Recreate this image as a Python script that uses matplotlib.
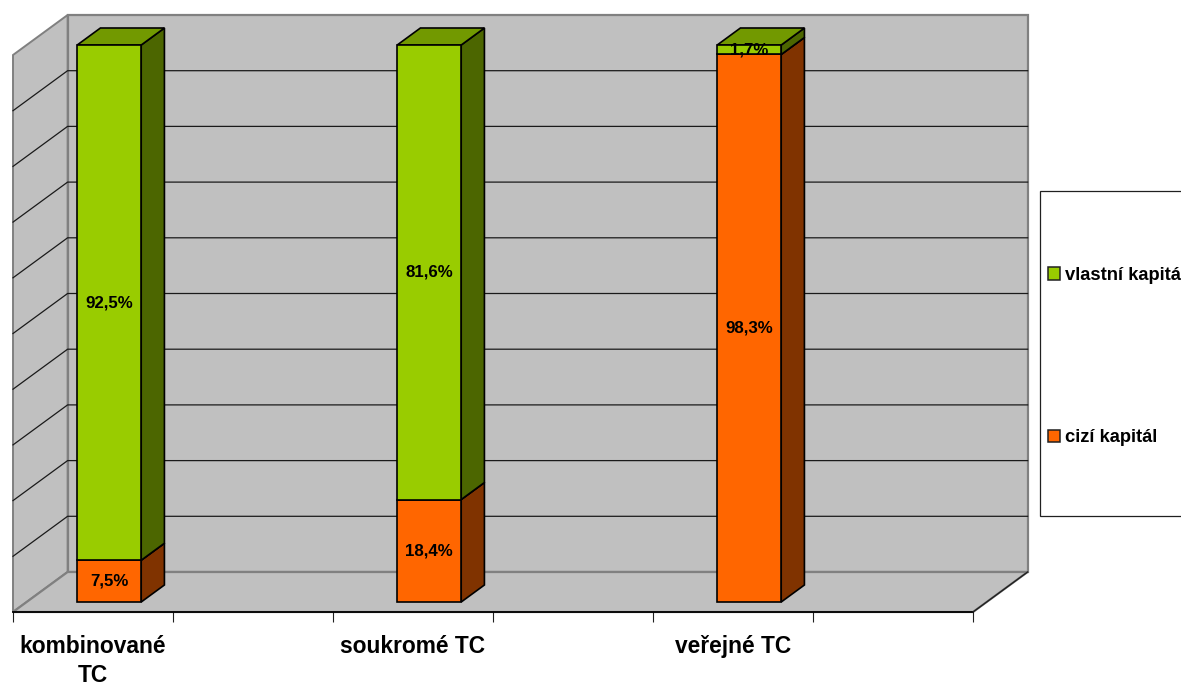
import numpy as np
import matplotlib
matplotlib.use("Agg")
import matplotlib.pyplot as plt
from matplotlib.patches import Polygon, Rectangle

plt.rcParams['font.family'] = ['Liberation Sans', 'DejaVu Sans']
plt.rcParams['font.weight'] = 'bold'

categories = ['kombinované\nTC', 'soukromé TC', 'veřejné TC']
series_names = ['vlastní kapitál', 'cizí kapitál']
cizi = [7.5, 18.4, 98.3]
vlastni = [92.5, 81.6, 1.7]
labels_cizi = ['7,5%', '18,4%', '98,3%']
labels_vlastni = ['92,5%', '81,6%', '1,7%']
cat_slots = [0, 2, 4]
grid_values = [0, 10, 20, 30, 40, 50, 60, 70, 80, 90, 100]

W, H = 1181, 682
GREEN, GREEN_TOP, GREEN_SIDE = '#99CC00', '#729900', '#4C6600'
ORANGE, ORANGE_TOP, ORANGE_SIDE = '#FF6600', '#BF4C00', '#803300'
GREY = '#C0C0C0'
EDGE = '#808080'

fig = plt.figure(figsize=(W / 100, H / 100), dpi=100, facecolor='white')
# axes span the front plane of the 3D box
L, R, B, T = 13, 973, 612, 55
ax = fig.add_axes([L / W, 1 - B / H, (R - L) / W, (B - T) / H])
ax.set_xlim(0, 6)
ax.set_ylim(0, 100)
ax.patch.set_visible(False)
for s in ax.spines.values():
    s.set_visible(False)

PX = 6 / (R - L)          # data x per pixel
PY = 100 / (B - T)        # data y per pixel
DX, DY = 54.6 * PX, 40 * PY  # full box depth in data units


def shift(x, y, f):
    return x + DX * f, y + DY * f


# walls and floor
x0, x1 = 0, 6
wall = Polygon([shift(x0, 0, 1), shift(x1, 0, 1), shift(x1, 100, 1), shift(x0, 100, 1)],
               closed=True, fc=GREY, ec=EDGE, lw=1.6, zorder=1, clip_on=False)
side = Polygon([(x0, 0), shift(x0, 0, 1), shift(x0, 100, 1), (x0, 100)],
               closed=True, fc=GREY, ec=EDGE, lw=1.4, zorder=1, clip_on=False)
floor = Polygon([(x0, 0), (x1, 0), shift(x1, 0, 1), shift(x0, 0, 1)],
                closed=True, fc=GREY, ec=EDGE, lw=1.6, zorder=1, clip_on=False)
for p in (wall, side, floor):
    ax.add_patch(p)

for g in grid_values[1:-1]:
    xa, ya = shift(x0, g, 0)
    xb, yb = shift(x0, g, 1)
    xc, yc = shift(x1, g, 1)
    ax.plot([xa, xb, xc], [ya, yb, yc], color='#1a1a1a', lw=0.9, zorder=2,
            clip_on=False, solid_joinstyle='miter')
ax.plot([x0, x1], [0, 0], color='black', lw=1.3, zorder=2, clip_on=False)
xe, ye = shift(x1, 0, 1)
ax.plot([x1, xe], [0, ye], color='#202020', lw=1.0, zorder=2, clip_on=False)

# bars
F0, F1 = 0.25, 0.675
BW = 64 * PX
C = 0.516


def bar3d(slot, bottom, height, front, top, sidec, label):
    xc = slot + C
    xl = xc - BW / 2
    xr = xc + BW / 2
    fx, fy = shift(xl, bottom, F0)
    ax.bar(fx, height, width=BW, bottom=fy, align='edge', color=front,
           edgecolor='black', linewidth=1.2, zorder=5, clip_on=False)
    yt = bottom + height
    ax.add_patch(Polygon([shift(xr, bottom, F0), shift(xr, bottom, F1),
                          shift(xr, yt, F1), shift(xr, yt, F0)], closed=True,
                         fc=sidec, ec='black', lw=1.2, zorder=4, clip_on=False))
    ax.add_patch(Polygon([shift(xl, yt, F0), shift(xr, yt, F0),
                          shift(xr, yt, F1), shift(xl, yt, F1)], closed=True,
                         fc=top, ec='black', lw=1.2, zorder=4, clip_on=False))
    tx, ty = shift(xc, bottom + height / 2, F0)
    ax.text(tx, ty, label, ha='center', va='center', fontsize=12.2,
            fontweight='bold', color='black', zorder=7)


for i, slot in enumerate(cat_slots):
    bar3d(slot, 0, cizi[i], ORANGE, ORANGE_TOP, ORANGE_SIDE, labels_cizi[i])
    bar3d(slot, cizi[i], vlastni[i], GREEN, GREEN_TOP, GREEN_SIDE, labels_vlastni[i])

# axis ticks and category labels
ax.set_xticks(range(0, 7))
ax.set_xticklabels([])
ax.tick_params(axis='x', which='major', length=7.2, width=0.8, color='#202020')
ax.set_xticks([s + 0.5 for s in cat_slots], minor=True)
ax.set_xticklabels(categories, minor=True, fontsize=16.4, fontweight='bold', linespacing=1.36)
ax.tick_params(axis='x', which='minor', length=0, pad=16.5)
ax.set_yticks([])

# legend
frame = Rectangle((1040 / W, 1 - 515.5 / H), 160 / W, 324.5 / H, transform=fig.transFigure,
                  fc='white', ec='#202020', lw=0.9, zorder=3)
fig.add_artist(frame)
handles = [Rectangle((0, 0), 1, 1, fc=GREEN, ec='#202020', lw=1.1),
           Rectangle((0, 0), 1, 1, fc=ORANGE, ec='#202020', lw=1.1)]
leg = fig.legend(handles, series_names, loc='upper left',
                 bbox_to_anchor=(1048 / W, 1 - 267 / H), frameon=False,
                 borderpad=0, borderaxespad=0, labelspacing=7.93,
                 handlelength=0.66, handleheight=0.66, handletextpad=0.28,
                 prop={'weight': 'bold', 'size': 13.2})
leg.set_zorder(4)

fig.savefig('out.png', dpi=100)
